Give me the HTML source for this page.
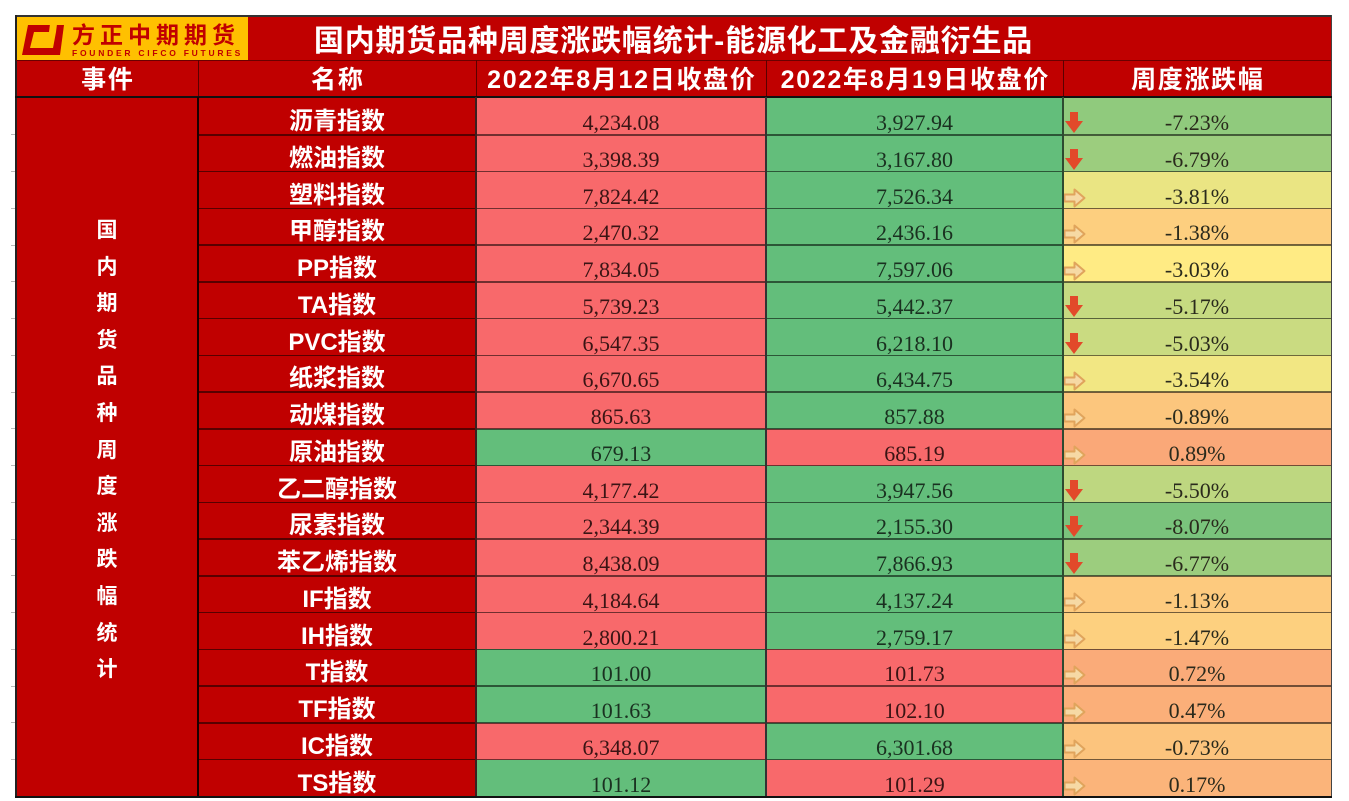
<!DOCTYPE html>
<html lang="zh">
<head>
<meta charset="utf-8">
<style>
*{margin:0;padding:0;box-sizing:border-box;}
html,body{width:1349px;height:801px;overflow:hidden;background:#fff;}
body{position:relative;font-family:"Liberation Sans","Noto Sans CJK SC",sans-serif;}
.a{position:absolute;}
.frame{left:15px;top:15px;width:1317px;height:783px;background:#C00000;}
.logo{left:17px;top:17px;width:231px;height:43px;background:#FFC000;}
.logotxt{left:72px;top:16px;width:175px;font:bold 23px "Liberation Sans","Noto Sans CJK SC",sans-serif;color:#C00000;letter-spacing:5px;white-space:nowrap;}
.logosub{left:72px;top:48px;width:175px;font:bold 8.5px "Liberation Sans",sans-serif;line-height:10px;color:#C00000;letter-spacing:2.75px;white-space:nowrap;}
.title{left:16px;top:15.5px;width:1315px;text-align:center;color:#fff;font:bold 30px "Liberation Sans","Noto Sans CJK SC",sans-serif;letter-spacing:0.8px;white-space:nowrap;}
.hd{top:59.5px;text-align:center;color:#fff;font:bold 25px "Liberation Sans","Noto Sans CJK SC",sans-serif;letter-spacing:1.7px;text-indent:1.7px;white-space:nowrap;}
.vt{left:16px;width:182px;text-align:center;color:#fff;font:bold 21px "Liberation Sans","Noto Sans CJK SC",sans-serif;line-height:36.6px;}
.r{position:absolute;left:0;width:1349px;height:36.75px;}
.r>*{position:absolute;}
.b1{left:476px;width:290px;top:0;height:36.75px;}
.b2{left:766px;width:297px;top:0;height:36.75px;}
.b3{left:1063px;width:268px;top:0;height:36.75px;}
.R{background:#F8696B;}
.G{background:#63BE7B;}
.nm{left:198px;width:278px;top:3px;text-align:center;color:#fff;font:bold 24px "Liberation Sans","Noto Sans CJK SC",sans-serif;white-space:nowrap;}
.v{top:7px;height:36.75px;text-align:center;font:22px "Liberation Serif",serif;line-height:36.75px;white-space:nowrap;}
.v1{left:476px;width:290px;}
.v2{left:766px;width:297px;}
.v3{left:1063px;width:268px;color:#2a2a1c;}
.tr{color:#3a1414;}
.tg{color:#1a3020;}
.ln{left:198px;width:1133px;top:36px;height:1.5px;background:rgba(0,0,0,0.55);z-index:3;}
.dn{left:1065px;top:14px;}
.rt{left:1063px;top:16px;}
.tick{left:11px;width:4px;height:1px;background:#bbb;}
</style>
</head>
<body>
<div class="a frame"></div>
<div class="a logo"></div>
<svg class="a" style="left:20px;top:22px" width="46" height="36" viewBox="0 0 46 36">
<polygon points="8,3 44,3 40,33 2,33" fill="#C00000"/>
<polygon points="14,10 36,10 33,26 10,26" fill="#FFC000"/>
<polygon points="30,2 37,2 36,10 29,10" fill="#FFC000"/>
</svg>
<div class="a logotxt">方正中期期货</div>
<div class="a logosub">FOUNDER CIFCO FUTURES</div>
<div class="a title">国内期货品种周度涨跌幅统计-能源化工及金融衍生品</div>

<div class="a hd" style="left:16px;width:182px;">事件</div>
<div class="a hd" style="left:198px;width:278px;">名称</div>
<div class="a hd" style="left:476px;width:290px;">2022年8月12日收盘价</div>
<div class="a hd" style="left:766px;width:297px;">2022年8月19日收盘价</div>
<div class="a hd" style="left:1063px;width:268px;">周度涨跌幅</div>

<div class="a vt" style="top:213px;">国<br>内<br>期<br>货<br>品<br>种<br>周<br>度<br>涨<br>跌<br>幅<br>统<br>计</div>

<div class="r" style="top:98px"><div class="b1 R"></div><div class="b2 G"></div><div class="b3" style="background:rgb(144,202,125)"></div><div class="nm">沥青指数</div><div class="v v1 tr">4,234.08</div><div class="v v2 tg">3,927.94</div><svg class="dn" width="18" height="21" viewBox="0 0 18 21"><polygon points="5,0 13,0 13,9 18,9 9,21 0,9 5,9" fill="#E2492A"/></svg><div class="v v3">-7.23%</div><div class="ln"></div></div>

<div class="r" style="top:134.75px"><div class="b1 R"></div><div class="b2 G"></div><div class="b3" style="background:rgb(156,205,126)"></div><div class="nm">燃油指数</div><div class="v v1 tr">3,398.39</div><div class="v v2 tg">3,167.80</div><svg class="dn" width="18" height="21" viewBox="0 0 18 21"><polygon points="5,0 13,0 13,9 18,9 9,21 0,9 5,9" fill="#E2492A"/></svg><div class="v v3">-6.79%</div><div class="ln"></div></div>

<div class="r" style="top:171.5px"><div class="b1 R"></div><div class="b2 G"></div><div class="b3" style="background:rgb(234,229,131)"></div><div class="nm">塑料指数</div><div class="v v1 tr">7,824.42</div><div class="v v2 tg">7,526.34</div><svg class="rt" width="23" height="20" viewBox="0 0 23 20"><polygon points="1.5,6.5 11.5,6.5 11.5,1.5 21.5,10 11.5,18.5 11.5,13.5 1.5,13.5" fill="#F6D9A4" stroke="#E0A45C" stroke-width="2" stroke-linejoin="round"/></svg><div class="v v3">-3.81%</div><div class="ln"></div></div>

<div class="r" style="top:208.25px"><div class="b1 R"></div><div class="b2 G"></div><div class="b3" style="background:rgb(253,207,127)"></div><div class="nm">甲醇指数</div><div class="v v1 tr">2,470.32</div><div class="v v2 tg">2,436.16</div><svg class="rt" width="23" height="20" viewBox="0 0 23 20"><polygon points="1.5,6.5 11.5,6.5 11.5,1.5 21.5,10 11.5,18.5 11.5,13.5 1.5,13.5" fill="#F6D9A4" stroke="#E0A45C" stroke-width="2" stroke-linejoin="round"/></svg><div class="v v3">-1.38%</div><div class="ln"></div></div>

<div class="r" style="top:245px"><div class="b1 R"></div><div class="b2 G"></div><div class="b3" style="background:rgb(255,235,132)"></div><div class="nm">PP指数</div><div class="v v1 tr">7,834.05</div><div class="v v2 tg">7,597.06</div><svg class="rt" width="23" height="20" viewBox="0 0 23 20"><polygon points="1.5,6.5 11.5,6.5 11.5,1.5 21.5,10 11.5,18.5 11.5,13.5 1.5,13.5" fill="#F6D9A4" stroke="#E0A45C" stroke-width="2" stroke-linejoin="round"/></svg><div class="v v3">-3.03%</div><div class="ln"></div></div>

<div class="r" style="top:281.75px"><div class="b1 R"></div><div class="b2 G"></div><div class="b3" style="background:rgb(198,218,129)"></div><div class="nm">TA指数</div><div class="v v1 tr">5,739.23</div><div class="v v2 tg">5,442.37</div><svg class="dn" width="18" height="21" viewBox="0 0 18 21"><polygon points="5,0 13,0 13,9 18,9 9,21 0,9 5,9" fill="#E2492A"/></svg><div class="v v3">-5.17%</div><div class="ln"></div></div>

<div class="r" style="top:318.5px"><div class="b1 R"></div><div class="b2 G"></div><div class="b3" style="background:rgb(202,219,129)"></div><div class="nm">PVC指数</div><div class="v v1 tr">6,547.35</div><div class="v v2 tg">6,218.10</div><svg class="dn" width="18" height="21" viewBox="0 0 18 21"><polygon points="5,0 13,0 13,9 18,9 9,21 0,9 5,9" fill="#E2492A"/></svg><div class="v v3">-5.03%</div><div class="ln"></div></div>

<div class="r" style="top:355.25px"><div class="b1 R"></div><div class="b2 G"></div><div class="b3" style="background:rgb(242,231,131)"></div><div class="nm">纸浆指数</div><div class="v v1 tr">6,670.65</div><div class="v v2 tg">6,434.75</div><svg class="rt" width="23" height="20" viewBox="0 0 23 20"><polygon points="1.5,6.5 11.5,6.5 11.5,1.5 21.5,10 11.5,18.5 11.5,13.5 1.5,13.5" fill="#F6D9A4" stroke="#E0A45C" stroke-width="2" stroke-linejoin="round"/></svg><div class="v v3">-3.54%</div><div class="ln"></div></div>

<div class="r" style="top:392px"><div class="b1 R"></div><div class="b2 G"></div><div class="b3" style="background:rgb(252,198,125)"></div><div class="nm">动煤指数</div><div class="v v1 tr">865.63</div><div class="v v2 tg">857.88</div><svg class="rt" width="23" height="20" viewBox="0 0 23 20"><polygon points="1.5,6.5 11.5,6.5 11.5,1.5 21.5,10 11.5,18.5 11.5,13.5 1.5,13.5" fill="#F6D9A4" stroke="#E0A45C" stroke-width="2" stroke-linejoin="round"/></svg><div class="v v3">-0.89%</div><div class="ln"></div></div>

<div class="r" style="top:428.75px"><div class="b1 G"></div><div class="b2 R"></div><div class="b3" style="background:rgb(250,168,120)"></div><div class="nm">原油指数</div><div class="v v1 tg">679.13</div><div class="v v2 tr">685.19</div><svg class="rt" width="23" height="20" viewBox="0 0 23 20"><polygon points="1.5,6.5 11.5,6.5 11.5,1.5 21.5,10 11.5,18.5 11.5,13.5 1.5,13.5" fill="#F6D9A4" stroke="#E0A45C" stroke-width="2" stroke-linejoin="round"/></svg><div class="v v3">0.89%</div><div class="ln"></div></div>

<div class="r" style="top:465.5px"><div class="b1 R"></div><div class="b2 G"></div><div class="b3" style="background:rgb(190,215,128)"></div><div class="nm">乙二醇指数</div><div class="v v1 tr">4,177.42</div><div class="v v2 tg">3,947.56</div><svg class="dn" width="18" height="21" viewBox="0 0 18 21"><polygon points="5,0 13,0 13,9 18,9 9,21 0,9 5,9" fill="#E2492A"/></svg><div class="v v3">-5.50%</div><div class="ln"></div></div>

<div class="r" style="top:502.25px"><div class="b1 R"></div><div class="b2 G"></div><div class="b3" style="background:rgb(122,195,124)"></div><div class="nm">尿素指数</div><div class="v v1 tr">2,344.39</div><div class="v v2 tg">2,155.30</div><svg class="dn" width="18" height="21" viewBox="0 0 18 21"><polygon points="5,0 13,0 13,9 18,9 9,21 0,9 5,9" fill="#E2492A"/></svg><div class="v v3">-8.07%</div><div class="ln"></div></div>

<div class="r" style="top:539px"><div class="b1 R"></div><div class="b2 G"></div><div class="b3" style="background:rgb(156,205,126)"></div><div class="nm">苯乙烯指数</div><div class="v v1 tr">8,438.09</div><div class="v v2 tg">7,866.93</div><svg class="dn" width="18" height="21" viewBox="0 0 18 21"><polygon points="5,0 13,0 13,9 18,9 9,21 0,9 5,9" fill="#E2492A"/></svg><div class="v v3">-6.77%</div><div class="ln"></div></div>

<div class="r" style="top:575.75px"><div class="b1 R"></div><div class="b2 G"></div><div class="b3" style="background:rgb(253,202,126)"></div><div class="nm">IF指数</div><div class="v v1 tr">4,184.64</div><div class="v v2 tg">4,137.24</div><svg class="rt" width="23" height="20" viewBox="0 0 23 20"><polygon points="1.5,6.5 11.5,6.5 11.5,1.5 21.5,10 11.5,18.5 11.5,13.5 1.5,13.5" fill="#F6D9A4" stroke="#E0A45C" stroke-width="2" stroke-linejoin="round"/></svg><div class="v v3">-1.13%</div><div class="ln"></div></div>

<div class="r" style="top:612.5px"><div class="b1 R"></div><div class="b2 G"></div><div class="b3" style="background:rgb(253,208,127)"></div><div class="nm">IH指数</div><div class="v v1 tr">2,800.21</div><div class="v v2 tg">2,759.17</div><svg class="rt" width="23" height="20" viewBox="0 0 23 20"><polygon points="1.5,6.5 11.5,6.5 11.5,1.5 21.5,10 11.5,18.5 11.5,13.5 1.5,13.5" fill="#F6D9A4" stroke="#E0A45C" stroke-width="2" stroke-linejoin="round"/></svg><div class="v v3">-1.47%</div><div class="ln"></div></div>

<div class="r" style="top:649.25px"><div class="b1 G"></div><div class="b2 R"></div><div class="b3" style="background:rgb(250,171,121)"></div><div class="nm">T指数</div><div class="v v1 tg">101.00</div><div class="v v2 tr">101.73</div><svg class="rt" width="23" height="20" viewBox="0 0 23 20"><polygon points="1.5,6.5 11.5,6.5 11.5,1.5 21.5,10 11.5,18.5 11.5,13.5 1.5,13.5" fill="#F6D9A4" stroke="#E0A45C" stroke-width="2" stroke-linejoin="round"/></svg><div class="v v3">0.72%</div><div class="ln"></div></div>

<div class="r" style="top:686px"><div class="b1 G"></div><div class="b2 R"></div><div class="b3" style="background:rgb(251,175,121)"></div><div class="nm">TF指数</div><div class="v v1 tg">101.63</div><div class="v v2 tr">102.10</div><svg class="rt" width="23" height="20" viewBox="0 0 23 20"><polygon points="1.5,6.5 11.5,6.5 11.5,1.5 21.5,10 11.5,18.5 11.5,13.5 1.5,13.5" fill="#F6D9A4" stroke="#E0A45C" stroke-width="2" stroke-linejoin="round"/></svg><div class="v v3">0.47%</div><div class="ln"></div></div>

<div class="r" style="top:722.75px"><div class="b1 R"></div><div class="b2 G"></div><div class="b3" style="background:rgb(252,196,125)"></div><div class="nm">IC指数</div><div class="v v1 tr">6,348.07</div><div class="v v2 tg">6,301.68</div><svg class="rt" width="23" height="20" viewBox="0 0 23 20"><polygon points="1.5,6.5 11.5,6.5 11.5,1.5 21.5,10 11.5,18.5 11.5,13.5 1.5,13.5" fill="#F6D9A4" stroke="#E0A45C" stroke-width="2" stroke-linejoin="round"/></svg><div class="v v3">-0.73%</div><div class="ln"></div></div>

<div class="r" style="top:759.5px"><div class="b1 G"></div><div class="b2 R"></div><div class="b3" style="background:rgb(251,180,122)"></div><div class="nm">TS指数</div><div class="v v1 tg">101.12</div><div class="v v2 tr">101.29</div><svg class="rt" width="23" height="20" viewBox="0 0 23 20"><polygon points="1.5,6.5 11.5,6.5 11.5,1.5 21.5,10 11.5,18.5 11.5,13.5 1.5,13.5" fill="#F6D9A4" stroke="#E0A45C" stroke-width="2" stroke-linejoin="round"/></svg><div class="v v3">0.17%</div></div>

<!-- grid lines -->
<div class="a" style="left:15px;top:15px;width:1317px;height:1.5px;background:#333;z-index:4;"></div>
<div class="a" style="left:15px;top:15px;width:1.5px;height:783px;background:#222;z-index:4;"></div>
<div class="a" style="left:1330.5px;top:15px;width:1.5px;height:783px;background:#444;z-index:4;"></div>
<div class="a" style="left:16px;top:59.5px;width:1315px;height:1.5px;background:#6a0000;z-index:4;"></div>
<div class="a" style="left:197.5px;top:60px;width:1.5px;height:37px;background:#5a0000;z-index:4;"></div>
<div class="a" style="left:475.5px;top:60px;width:1.5px;height:37px;background:#5a0000;z-index:4;"></div>
<div class="a" style="left:765.5px;top:60px;width:1.5px;height:37px;background:#5a0000;z-index:4;"></div>
<div class="a" style="left:1062.5px;top:60px;width:1.5px;height:37px;background:#5a0000;z-index:4;"></div>
<div class="a" style="left:15px;top:96px;width:1317px;height:2.2px;background:#111;z-index:4;"></div>
<div class="a" style="left:197px;top:97px;width:2px;height:700px;background:#1a0000;z-index:4;"></div>
<div class="a" style="left:475.3px;top:97px;width:1.5px;height:700px;background:#3a2020;z-index:4;"></div>
<div class="a" style="left:765.3px;top:97px;width:1.5px;height:700px;background:#333;z-index:4;"></div>
<div class="a" style="left:1062.3px;top:97px;width:1.5px;height:700px;background:#2e4a30;z-index:4;"></div>
<div class="a" style="left:15px;top:796px;width:1317px;height:2.2px;background:#111;z-index:4;"></div>

<div class="a tick" style="top:134px"></div>
<div class="a tick" style="top:171px"></div>
<div class="a tick" style="top:208px"></div>
<div class="a tick" style="top:245px"></div>
<div class="a tick" style="top:281px"></div>
<div class="a tick" style="top:318px"></div>
<div class="a tick" style="top:355px"></div>
<div class="a tick" style="top:392px"></div>
<div class="a tick" style="top:428px"></div>
<div class="a tick" style="top:465px"></div>
<div class="a tick" style="top:502px"></div>
<div class="a tick" style="top:539px"></div>
<div class="a tick" style="top:575px"></div>
<div class="a tick" style="top:612px"></div>
<div class="a tick" style="top:649px"></div>
<div class="a tick" style="top:686px"></div>
<div class="a tick" style="top:722px"></div>
<div class="a tick" style="top:759px"></div>
</body>
</html>
